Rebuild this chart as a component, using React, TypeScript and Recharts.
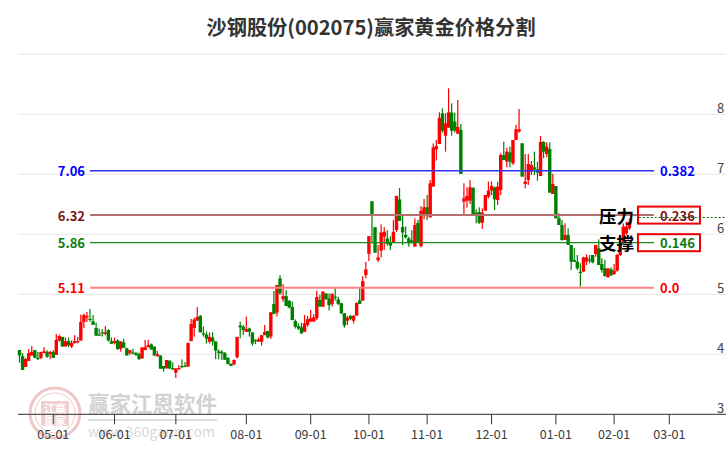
import { ComposedChart, Bar, XAxis, YAxis, CartesianGrid, ReferenceLine } from "recharts";

const FONT = '"Noto Sans CJK SC", "Noto Sans", sans-serif';
const UP = "#ff0000";
const DOWN = "#008000";
const SLOTS = 231;

const opens = [
  4.07, 3.97, 3.79, 3.89, 3.98, 4.07, 3.94, 3.94, 4.02, 4.04,
  4.005, 4.04, 3.99, 4.23, 4.29, 4.13, 4.22, 4.13, 4.19, 4.2,
  4.23, 4.54, 4.615, 4.59, 4.55, 4.44, 4.33, 4.365, 4.34, 4.405,
  4.22, 4.19, 4.23, 4.09, 4.2, 4.1, 4.02, 4.03, 4.02, 4.005,
  3.93, 4.07, 4.12, 4.165, 4.13, 3.97, 3.98, 3.805, 3.765, 3.895,
  3.77, 3.695, 3.755, 3.805, 3.81, 3.795, 4.22, 4.44, 4.565, 4.64,
  4.35, 4.33, 4.21, 4.28, 4.215, 4.05, 4.04, 4.02, 3.94, 3.84,
  3.83, 3.95, 4.48, 4.46, 4.375, 4.43, 4.365, 4.24, 4.21, 4.21,
  4.32, 4.39, 4.295, 4.84, 4.695, 5.265, 4.92, 4.97, 4.89, 4.79,
  4.555, 4.47, 4.45, 4.375, 4.49, 4.545, 4.545, 4.6, 4.905, 4.795,
  5.015, 4.93, 4.84, 4.96, 4.915, 4.85, 4.685, 4.56, 4.64, 4.56,
  4.645, 4.9, 4.895, 5.32, 5.675, 6.55, 6.12, 5.57, 5.73, 5.96,
  5.93, 5.865, 5.865, 6.07, 6.58, 6.12, 5.99, 5.93, 5.9, 5.795,
  6.19, 5.805, 6.305, 6.45, 6.283, 6.795, 7.416, 7.505, 8.016, 7.644,
  7.778, 8.028, 7.878, 7.678, 7.739, 6.544, 6.561, 6.561, 6.778, 6.361,
  6.372, 6.194, 6.394, 6.628, 6.728, 6.783, 6.572, 6.739, 7.322, 7.211,
  7.367, 7.183, 7.572, 7.711, 7.517, 6.839, 6.906, 7.044, 7.117, 7.083,
  6.972, 7.539, 7.339, 7.422, 6.672, 6.805, 6.267, 6.155, 5.905, 5.988,
  5.822, 5.57, 5.544, 5.375, 5.377, 5.544, 5.582, 5.655, 5.672, 5.766,
  5.505, 5.433, 5.283, 5.416, 5.338, 5.394, 5.655, 5.85, 6.016, 6.099,
];

const closes = [
  3.98, 3.74, 3.92, 4.02, 4.04, 3.94, 3.92, 4.04, 4.05, 3.96,
  4.04, 3.94, 4.24, 4.305, 4.13, 4.22, 4.15, 4.19, 4.22, 4.22,
  4.54, 4.655, 4.64, 4.58, 4.49, 4.31, 4.31, 4.355, 4.365, 4.23,
  4.175, 4.22, 4.09, 4.215, 4.11, 3.98, 4.07, 4.02, 3.99, 3.92,
  4.115, 4.12, 4.155, 4.08, 3.98, 4.0, 3.76, 3.76, 3.905, 3.765,
  3.755, 3.765, 3.77, 3.79, 3.795, 4.19, 4.505, 4.58, 4.62, 4.365,
  4.33, 4.26, 4.29, 4.21, 4.06, 4.02, 4.015, 3.91, 3.84, 3.805,
  3.905, 4.29, 4.45, 4.405, 4.42, 4.375, 4.18, 4.23, 4.25, 4.32,
  4.375, 4.28, 4.7, 4.67, 5.155, 5.015, 4.97, 4.805, 4.78, 4.57,
  4.46, 4.43, 4.35, 4.515, 4.585, 4.6, 4.615, 4.955, 4.795, 5.045,
  4.915, 4.82, 5.005, 4.95, 4.84, 4.685, 4.48, 4.61, 4.59, 4.64,
  4.855, 4.84, 5.22, 5.415, 5.97, 6.33, 5.695, 5.615, 6.03, 6.04,
  5.84, 5.81, 6.04, 6.64, 6.225, 6.03, 5.95, 5.85, 5.865, 6.155,
  5.865, 6.39, 6.45, 6.305, 6.85, 7.45, 7.47, 7.94, 7.727, 7.85,
  8.033, 7.727, 7.727, 7.789, 7.006, 6.6, 6.639, 6.783, 6.339, 6.333,
  6.194, 6.361, 6.655, 6.728, 6.805, 6.583, 6.794, 7.322, 7.239, 7.378,
  7.211, 7.572, 7.75, 7.75, 6.961, 6.878, 7.172, 7.155, 7.083, 7.028,
  7.539, 7.378, 7.461, 6.694, 6.839, 6.267, 6.155, 5.905, 5.988, 5.822,
  5.544, 5.54, 5.433, 5.36, 5.616, 5.616, 5.566, 5.533, 5.822, 5.488,
  5.405, 5.305, 5.433, 5.316, 5.394, 5.655, 5.822, 6.127, 6.127, 6.21,
];

const highs = [
  4.07, 4.02, 3.94, 4.09, 4.14, 4.07, 4.04, 4.04, 4.12, 4.07,
  4.055, 4.07, 4.34, 4.33, 4.29, 4.28, 4.28, 4.23, 4.32, 4.29,
  4.66, 4.68, 4.705, 4.755, 4.655, 4.53, 4.43, 4.42, 4.47, 4.42,
  4.28, 4.28, 4.25, 4.215, 4.255, 4.11, 4.07, 4.09, 4.04, 4.03,
  4.115, 4.24, 4.24, 4.18, 4.13, 4.055, 3.98, 3.805, 3.905, 3.895,
  3.865, 3.765, 3.82, 3.915, 3.87, 4.19, 4.59, 4.61, 4.79, 4.655,
  4.46, 4.38, 4.365, 4.365, 4.215, 4.08, 4.07, 4.04, 3.95, 3.85,
  3.915, 4.29, 4.545, 4.49, 4.63, 4.445, 4.365, 4.25, 4.28, 4.32,
  4.49, 4.39, 4.7, 5.055, 5.155, 5.32, 5.17, 5.07, 4.905, 4.88,
  4.58, 4.515, 4.525, 4.655, 4.64, 4.74, 4.67, 5.06, 4.99, 5.045,
  5.015, 5.015, 5.015, 5.1, 4.96, 4.86, 4.685, 4.64, 4.655, 4.655,
  4.865, 5.1, 5.305, 5.54, 5.97, 6.55, 6.12, 5.82, 6.165, 6.12,
  6.07, 5.97, 6.24, 6.64, 6.77, 6.33, 6.13, 5.96, 6.07, 6.265,
  6.24, 6.47, 6.59, 6.655, 6.905, 7.515, 7.572, 8.033, 8.1, 8.016,
  8.433, 8.183, 8.028, 8.239, 7.839, 6.85, 6.783, 6.905, 6.778, 6.417,
  6.45, 6.433, 6.655, 6.878, 6.878, 6.794, 6.878, 7.35, 7.544, 7.444,
  7.461, 7.572, 7.822, 8.089, 7.517, 7.339, 7.339, 7.222, 7.378, 7.211,
  7.639, 7.555, 7.533, 7.533, 7.006, 6.805, 6.35, 6.238, 6.183, 6.099,
  5.822, 5.77, 5.655, 5.516, 5.627, 5.666, 5.655, 5.655, 5.822, 5.916,
  5.6, 5.572, 5.433, 5.45, 5.505, 5.672, 5.96, 6.183, 6.21, 6.266,
];

const lows = [
  3.86, 3.74, 3.79, 3.89, 3.98, 3.94, 3.905, 3.92, 4.02, 3.94,
  3.92, 3.94, 3.99, 4.21, 4.13, 4.13, 4.12, 4.105, 4.18, 4.18,
  4.23, 4.44, 4.54, 4.545, 4.49, 4.31, 4.31, 4.295, 4.315, 4.215,
  4.175, 4.165, 4.07, 4.045, 4.11, 3.98, 3.99, 4.0, 3.97, 3.905,
  3.93, 4.07, 4.12, 4.08, 3.98, 3.96, 3.76, 3.71, 3.765, 3.755,
  3.74, 3.605, 3.74, 3.77, 3.785, 3.795, 4.22, 4.295, 4.555, 4.365,
  4.295, 4.18, 4.18, 4.145, 3.92, 3.915, 3.905, 3.905, 3.83, 3.805,
  3.82, 3.93, 4.265, 4.32, 4.375, 4.295, 4.145, 4.17, 4.21, 4.145,
  4.32, 4.265, 4.255, 4.67, 4.63, 4.99, 4.875, 4.805, 4.765, 4.57,
  4.43, 4.405, 4.34, 4.375, 4.46, 4.545, 4.545, 4.57, 4.795, 4.795,
  4.915, 4.73, 4.795, 4.895, 4.82, 4.67, 4.445, 4.49, 4.57, 4.515,
  4.645, 4.84, 4.895, 5.265, 5.555, 5.85, 5.695, 5.54, 5.615, 5.74,
  5.815, 5.74, 5.865, 6.04, 6.225, 5.82, 5.93, 5.795, 5.85, 5.795,
  5.865, 5.78, 6.25, 6.24, 6.283, 6.795, 7.228, 7.505, 7.694, 7.378,
  7.778, 7.644, 7.694, 7.667, 7.006, 6.322, 6.444, 6.505, 6.339, 6.183,
  6.172, 6.089, 6.394, 6.6, 6.655, 6.405, 6.489, 6.655, 7.239, 7.117,
  7.117, 7.155, 7.572, 7.694, 6.961, 6.767, 6.822, 6.989, 6.989, 6.894,
  6.972, 7.267, 7.283, 6.694, 6.672, 6.267, 6.155, 5.894, 5.905, 5.822,
  5.405, 5.54, 5.405, 5.127, 5.377, 5.488, 5.516, 5.516, 5.627, 5.488,
  5.36, 5.294, 5.283, 5.305, 5.322, 5.377, 5.638, 5.822, 5.988, 6.071,
];

const monthSlots = [11, 31, 51, 74, 95, 114, 133, 154, 175, 194, 212];
const monthLabels = ["05-01", "06-01", "07-01", "08-01", "09-01", "10-01", "11-01", "12-01", "01-01", "02-01", "03-01"];
const priceTicks = [3, 4, 5, 6, 7, 8];

const fibPrices = [7.06, 6.32, 5.86, 5.11];
const fibRatios = ["0.382", "0.236", "0.146", "0.0"];
const fibText = ["#0000ff", "#7b1515", "#0a7d0a", "#ff0000"];
const fibLine = ["#3030ff", "#b57070", "#1a8a1a", "#ff8080"];
const fibWidth = [1.5, 2, 1.2, 2];
const fibTags = ["", "压力", "支撑", ""];
const lastPrice = 6.28;

const table = Array.from({ length: SLOTS }, (_, i) =>
  i < opens.length
    ? { slot: i, range: [lows[i], highs[i]], open: opens[i], close: closes[i] }
    : { slot: i }
);

const Candle = ({ x, y, width, height, payload }: any) => {
  if (!payload || payload.open === undefined) return null;
  const [low, high] = payload.range;
  const perUnit = Math.abs(height) / (high - low);
  const center = x + width / 2;
  const yOf = (v: number) => y + (high - v) * perUnit;
  const top = yOf(Math.max(payload.open, payload.close));
  const bottom = yOf(Math.min(payload.open, payload.close));
  const color = payload.close >= payload.open ? UP : DOWN;
  return (
    <g>
      <rect x={center - 0.6} y={y} width={1.2} height={Math.max(Math.abs(height), 1)} fill={color} />
      <rect x={center - 1.7} y={top} width={3.4} height={Math.max(bottom - top, 1.2)} fill={color} />
    </g>
  );
};

const FibLabel = ({ viewBox, index }: any) => {
  const { x, y, width } = viewBox;
  const end = x + width;
  const common = { fontFamily: FONT, fontWeight: 700, dominantBaseline: "central" as const };
  return (
    <g>
      <text x={x - 5} y={y} fontSize={13} textAnchor="end" fill={fibText[index]} {...common}>
        {fibPrices[index].toFixed(2)}
      </text>
      <text x={end + 6} y={y} fontSize={13} fill={fibText[index]} {...common}>
        {fibRatios[index]}
      </text>
      {fibTags[index] && (
        <>
          <rect x={end - 16} y={y - 8.5} width={62} height={17} fill="none" stroke="#ee0000" strokeWidth={2} />
          <text x={end - 55} y={y} fontSize={17.5} fill="#000" {...common}>
            {fibTags[index]}
          </text>
        </>
      )}
    </g>
  );
};

const PriceTick = ({ y, payload }: any) => (
  <text x={717} y={y - 7} fontSize={13} fill="#444" fontFamily={FONT} dominantBaseline="central">
    {payload.value}
  </text>
);

const Backdrop = () => (
  <svg width={726} height={450} style={{ position: "absolute", left: 0, top: 0 }}>
    <text x={371} y={26} textAnchor="middle" dominantBaseline="central" fontFamily={FONT} fontWeight={700} fontSize={20.2} fill="#333">
      沙钢股份(002075)赢家黄金价格分割
    </text>
    <g fill="none" stroke="#eec8c8">
      <circle cx={55} cy={413} r={25} strokeWidth={3} />
      <circle cx={55} cy={413} r={20} strokeWidth={1} />
    </g>
    <rect x={41} y={401} width={28} height={25} fill="#efcfcf" />
    <text x={55} y={408} textAnchor="middle" dominantBaseline="central" fontFamily={FONT} fontWeight={700} fontSize={11} fill="#fff">
      江赢
    </text>
    <text x={55} y={420} textAnchor="middle" dominantBaseline="central" fontFamily={FONT} fontWeight={700} fontSize={11} fill="#fff">
      恩家
    </text>
    <text x={88} y={402} dominantBaseline="central" fontFamily={FONT} fontWeight={700} fontSize={21.5} fill="#d2d2d2">
      赢家江恩软件
    </text>
    <rect x={88} y={419} width={129} height={2} fill="#dedede" />
    <text x={88} y={431} dominantBaseline="central" fontFamily={FONT} fontSize={14} textLength={127} fill="#d8d8d8">
      www.360gann.com
    </text>
  </svg>
);

export default function App() {
  return (
    <div style={{ position: "absolute", left: 0, top: 0, width: 726, height: 450, background: "#fff" }}>
      <Backdrop />
      <div style={{ position: "absolute", left: 0, top: 0 }}>
        <ComposedChart
          width={726}
          height={450}
          data={table}
          barCategoryGap={0}
          margin={{ top: 54.3, right: 0, bottom: 0, left: 18 }}
        >
          <CartesianGrid vertical={false} stroke="#e6e6e6" />
          <XAxis
            dataKey="slot"
            height={35.7}
            interval={0}
            ticks={monthSlots}
            tickFormatter={(v) => monthLabels[monthSlots.indexOf(v)]}
            tick={{ fill: "#3a3a3a", fontSize: 12.5, fontFamily: FONT }}
            tickSize={10}
            tickMargin={6}
            tickLine={{ stroke: "#333" }}
            axisLine={{ stroke: "#333" }}
          />
          <YAxis
            orientation="right"
            mirror
            width={30}
            domain={[3, 9]}
            ticks={priceTicks}
            interval={0}
            axisLine={false}
            tickLine={false}
            tick={<PriceTick />}
          />
          <Bar dataKey="range" shape={<Candle />} isAnimationActive={false} />
          {fibPrices.map((price, i) => (
            <ReferenceLine
              key={price}
              segment={[{ x: 23, y: price }, { x: 207, y: price }]}
              stroke={fibLine[i]}
              strokeWidth={fibWidth[i]}
              label={<FibLabel index={i} />}
            />
          ))}
          <ReferenceLine
            segment={[{ x: 202, y: lastPrice }, { x: 230, y: lastPrice }]}
            stroke="#006400"
            strokeDasharray="2 2"
          />
        </ComposedChart>
      </div>
    </div>
  );
}
